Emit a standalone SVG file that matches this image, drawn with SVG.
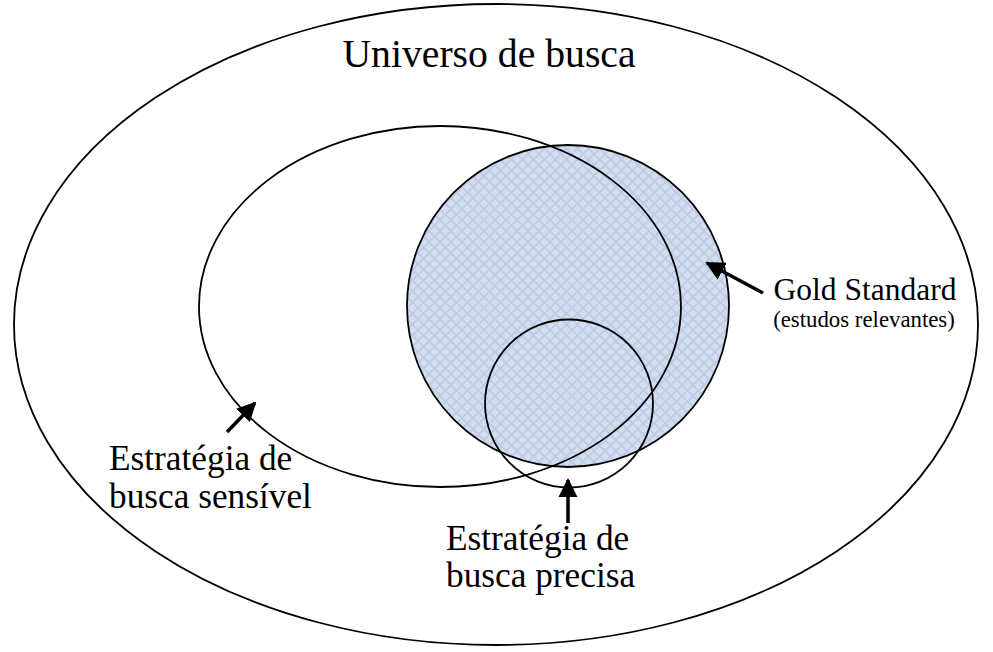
<svg xmlns="http://www.w3.org/2000/svg" width="993" height="652" viewBox="0 0 993 652">
  <style>
    .outline { fill: none; stroke: #000; stroke-width: 1.8; }
    .arrow { stroke: #000; stroke-width: 3.5; fill: none; marker-end: url(#head); }
    .lbl { font-family: "Liberation Serif", "Times New Roman", serif; fill: #000; }
  </style>
  <defs>
    <pattern id="hatch" width="11" height="11" patternUnits="userSpaceOnUse">
      <rect width="11" height="11" fill="#d4ddee"/>
      <path d="M0,0 L11,11 M11,0 L0,11" stroke="#bccae6" stroke-width="1.6"/>
    </pattern>
    <marker id="head" viewBox="0 0 10 10" refX="9" refY="5" markerWidth="5.5" markerHeight="5.5" orient="auto" markerUnits="strokeWidth">
      <path d="M0,0 L10,5 L0,10 Z" fill="#000"/>
    </marker>
  </defs>

  <g id="universo">
    <ellipse class="outline" cx="496" cy="324.5" rx="482" ry="320.5"/>
    <text class="lbl" x="489" y="67" font-size="39.7" text-anchor="middle">Universo de busca</text>
  </g>

  <g id="gold-standard">
    <circle cx="568" cy="306" r="161" fill="url(#hatch)" stroke="#000" stroke-width="1.8"/>
    <text class="lbl" x="865" y="300" font-size="31.5" text-anchor="middle">Gold Standard</text>
    <text class="lbl" x="864" y="327" font-size="22.8" text-anchor="middle">(estudos relevantes)</text>
  </g>

  <g id="sensivel">
    <ellipse class="outline" cx="440" cy="306.5" rx="241" ry="180.5"/>
    <text class="lbl" x="109" y="470" font-size="35.3">Estratégia de</text>
    <text class="lbl" x="109" y="508" font-size="35.3">busca sensível</text>
  </g>

  <g id="precisa">
    <circle class="outline" cx="569" cy="403.5" r="84"/>
    <text class="lbl" x="446" y="550" font-size="35.3">Estratégia de</text>
    <text class="lbl" x="446" y="587" font-size="35.3">busca precisa</text>
  </g>

  <g id="connectors">
    <line class="arrow" x1="763" y1="293" x2="707" y2="263"/>
    <line class="arrow" x1="227" y1="432" x2="255" y2="403"/>
    <line class="arrow" x1="568" y1="523" x2="568" y2="480"/>
  </g>
</svg>
